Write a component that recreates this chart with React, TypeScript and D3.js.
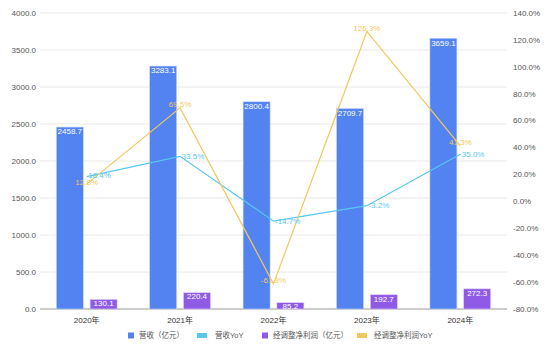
import React from "react";
import * as d3 from "d3";

const categories = ["2020年", "2021年", "2022年", "2023年", "2024年"];
const revenue = [2458.7, 3283.1, 2800.4, 2709.7, 3659.1];
const revenueYoY = [18.4, 33.5, -14.7, -3.2, 35.0];
const profit = [130.1, 220.4, 85.2, 192.7, 272.3];
const profitYoY = [12.8, 69.5, -61.3, 126.3, 41.3];
const leftTicks = [0, 500, 1000, 1500, 2000, 2500, 3000, 3500, 4000];
const rightTicks = [-80, -60, -40, -20, 0, 20, 40, 60, 80, 100, 120, 140];
const legendItems = ["营收（亿元）", "营收YoY", "经调整净利润（亿元）", "经调整净利润YoY"];

const W = 550, H = 358;
const M = { left: 40, right: 507, top: 13, bottom: 309 };
const C_BLUE = "#5283f0";
const C_CYAN = "#56c8ef";
const C_PURPLE = "#8f5be6";
const C_YELLOW = "#f2c85b";
const FONT = "'Liberation Sans', Arial, 'Noto Sans CJK SC', sans-serif";

export default function App() {
  const x = d3.scaleBand<string>().domain(categories).range([M.left, M.right]);
  const yL = d3.scaleLinear().domain([0, 4000]).range([M.bottom, M.top]);
  const yR = d3.scaleLinear().domain([-80, 140]).range([M.bottom, M.top]);
  const cx = (c: string) => (x(c) as number) + x.bandwidth() / 2;
  const bw = 27;
  const gap = 3.4;
  const lineGen = (vals: number[]) =>
    d3.line<number>().x((_, i) => cx(categories[i])).y((v) => yR(v))(vals) as string;

  const legendX = [128, 197, 262, 357];
  const legendTextX = [139, 215, 273, 374];
  const legendColors = [C_BLUE, C_CYAN, C_PURPLE, C_YELLOW];

  return (
    <svg width={W} height={H} style={{ position: "absolute", left: 0, top: 0 }} fontFamily={FONT}>
      <rect width={W} height={H} fill="#fff" />
      {leftTicks.map((t) => (
        <g key={t}>
          {t !== 0 && (
            <line x1={M.left} x2={M.right} y1={yL(t)} y2={yL(t)} stroke="#e8e8e8" strokeWidth={1} />
          )}
          <text x={36} y={yL(t)} dy="0.35em" textAnchor="end" fontSize={8} fill="#555">
            {t.toFixed(1)}
          </text>
        </g>
      ))}
      {rightTicks.map((t) => (
        <text key={t} x={513} y={yR(t)} dy="0.35em" textAnchor="start" fontSize={8} fill="#555">
          {t.toFixed(1) + "%"}
        </text>
      ))}
      <line x1={M.left} x2={M.right} y1={M.bottom} y2={M.bottom} stroke="#999" strokeWidth={1} />
      {categories.map((c) => (
        <text key={c} x={cx(c)} y={320} dy="0.35em" textAnchor="middle" fontSize={8} fill="#333">
          {c}
        </text>
      ))}
      {categories.map((c, i) => {
        const xb = cx(c) - gap - bw;
        const xp = cx(c) + gap;
        return (
          <g key={c}>
            <rect x={xb} y={yL(revenue[i])} width={bw} height={M.bottom - yL(revenue[i])} fill={C_BLUE} stroke="#c9d8fb" strokeWidth={0.6} />
            <rect x={xp} y={yL(profit[i])} width={bw} height={M.bottom - yL(profit[i])} fill={C_PURPLE} stroke="#dccdf8" strokeWidth={0.6} />
          </g>
        );
      })}
      <path d={lineGen(revenueYoY)} fill="none" stroke={C_CYAN} strokeWidth={1.2} />
      <path d={lineGen(profitYoY)} fill="none" stroke={C_YELLOW} strokeWidth={1.2} />
      {categories.map((c, i) => {
        const xb = cx(c) - gap - bw / 2;
        const xp = cx(c) + gap + bw / 2;
        return (
          <g key={c}>
            <text x={xb} y={yL(revenue[i]) + 4.5} dy="0.35em" textAnchor="middle" fontSize={8} fontWeight={500} fill="#fff">
              {revenue[i].toFixed(1)}
            </text>
            <text x={xp} y={yL(profit[i]) + 4} dy="0.35em" textAnchor="middle" fontSize={8} fontWeight={500} fill="#fff">
              {profit[i].toFixed(1)}
            </text>
          </g>
        );
      })}
      {categories.map((c, i) => (
        <g key={c}>
          <text x={cx(c) + 1.5} y={yR(revenueYoY[i]) - (i === 0 ? 1.5 : 0)} dy="0.35em" textAnchor="start" fontSize={8} fill={C_CYAN}>
            {revenueYoY[i].toFixed(1) + "%"}
          </text>
          <text x={cx(c)} y={yR(profitYoY[i]) - 3.5 + (i === 0 ? 1.5 : 0)} dy="0.35em" textAnchor="middle" fontSize={8} fill={C_YELLOW}>
            {profitYoY[i].toFixed(1) + "%"}
          </text>
        </g>
      ))}
      {legendItems.map((t, i) => (
        <g key={t}>
          {i % 2 === 0 ? (
            <rect x={legendX[i]} y={332.5} width={6} height={6} fill={legendColors[i]} />
          ) : (
            <rect x={legendX[i]} y={333} width={10} height={5} fill={legendColors[i]} />
          )}
          <text x={legendTextX[i]} y={335.7} dy="0.35em" fontSize={7.5} fill="#555">
            {t}
          </text>
        </g>
      ))}
    </svg>
  );
}
